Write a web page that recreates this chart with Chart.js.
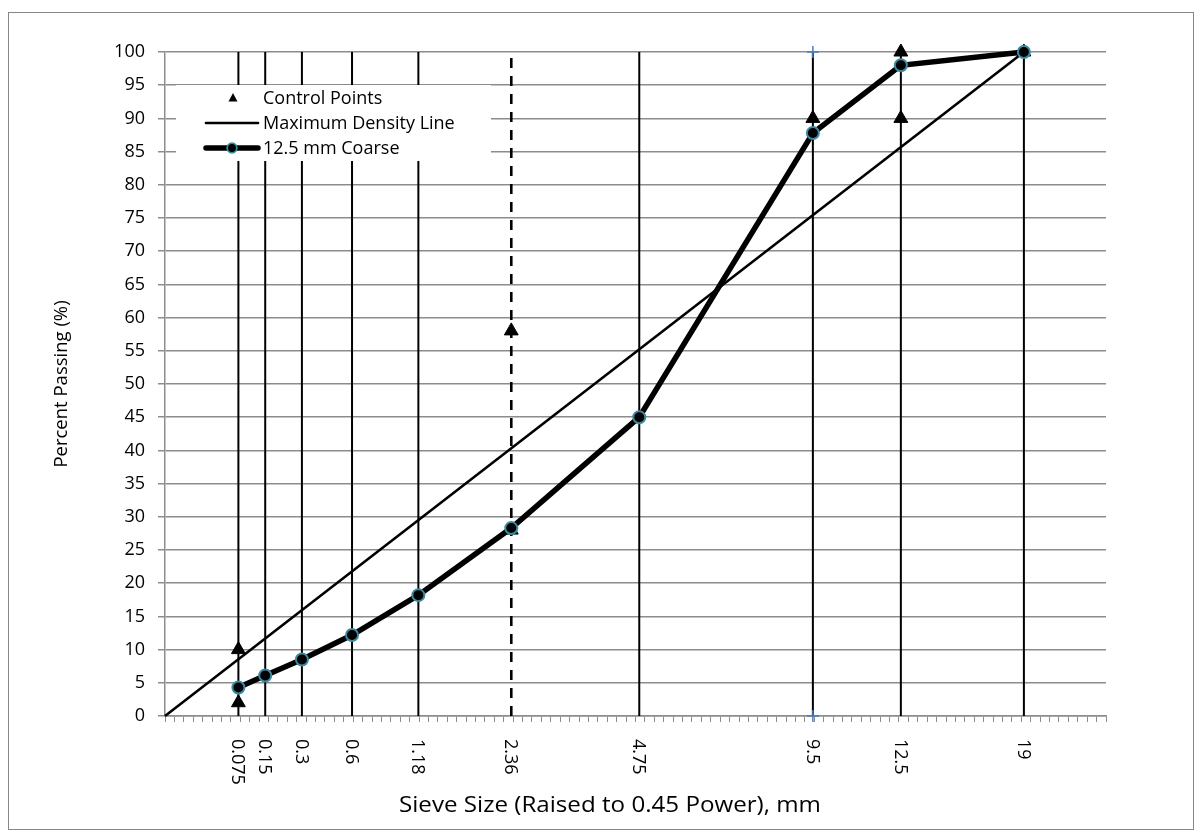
<!DOCTYPE html>
<html>
<head>
<meta charset="utf-8">
<title>Gradation Chart</title>
<script src="https://cdn.jsdelivr.net/npm/chart.js@4.4.1/dist/chart.umd.min.js"></script>
<style>
  html, body { margin: 0; padding: 0; background: #ffffff; }
  #wrap { width: 1202px; height: 840px; position: relative; }
  canvas { display: block; }
</style>
</head>
<body>
<div id="wrap"><canvas id="gradation" width="1202" height="840"></canvas></div>
<script>
// Sieve sizes (mm) as labelled under the axis
const sieveSizes = ['0.075', '0.15', '0.3', '0.6', '1.18', '2.36', '4.75', '9.5', '12.5', '19'];
// Where each sieve sits on the horizontal axis (size raised to the 0.45 power)
const sievePositions = [0.312, 0.426, 0.582, 0.795, 1.077, 1.472, 2.016, 2.754, 3.128, 3.651];
// Percent passing for the 12.5 mm coarse blend, one value per sieve
const coarsePassing = [4.3, 6.1, 8.5, 12.2, 18.2, 28.3, 45.0, 87.8, 98.0, 100];
// Superpave control points for a 12.5 mm nominal mix
const controlSieves = ['0.075', '0.075', '2.36', '2.36', '9.5', '12.5', '12.5', '19'];
const controlPassing = [2, 10, 28, 58, 90, 90, 100, 100];
// Maximum density line: from the origin to 100 % at the largest sieve
const densityLineSieves = ['0', '19'];
const densityLinePassing = [0, 100];
// Percent-passing axis labels
const yTickValues = [0, 5, 10, 15, 20, 25, 30, 35, 40, 45, 50, 55, 60, 65, 70, 75, 80, 85, 90, 95, 100];

const FONT = '"Open Sans", "Noto Sans", sans-serif';
const posOf = s => (s === '0' ? 0 : sievePositions[sieveSizes.indexOf(s)]);

// Minor tick marks along the horizontal axis every 0.04 units
const xMinorTicks = [];
for (let i = 0; i <= 100; i++) xMinorTicks.push(+(i * 0.04).toFixed(2));

const coarseData = sieveSizes.map((s, i) => ({ x: posOf(s), y: coarsePassing[i] }));
const controlData = controlSieves.map((s, i) => ({ x: posOf(s), y: controlPassing[i] }));
const densityData = densityLineSieves.map((s, i) => ({ x: posOf(s), y: densityLinePassing[i] }));

// One vertical guide per sieve, full height of the chart
const sieveLineSets = sieveSizes.map((s) => {
  const dashed = s === '2.36';
  const marked = s === '9.5';
  return {
    label: 'sieve ' + s,
    inLegend: false,
    data: [{ x: posOf(s), y: 0 }, { x: posOf(s), y: 100 }],
    showLine: true,
    borderColor: '#000000',
    borderWidth: dashed ? 2.6 : 2,
    borderDash: dashed ? [10, 8] : [],
    pointStyle: 'cross',
    pointRadius: marked ? 6 : 0,
    pointBorderColor: '#4a7ebb',
    pointBorderWidth: 1.5,
    pointHoverRadius: 0,
    clip: false
  };
});

const datasets = [
  {
    label: '12.5 mm Coarse',
    inLegend: true,
    data: coarseData,
    showLine: true,
    borderColor: '#000000',
    borderWidth: 5.5,
    pointStyle: 'circle',
    pointRadius: 6,
    pointBackgroundColor: '#000000',
    pointBorderColor: '#3a8aa3',
    pointBorderWidth: 2,
    clip: false
  },
  {
    label: 'Control Points',
    inLegend: true,
    data: controlData,
    showLine: false,
    pointStyle: 'triangle',
    pointRadius: 8,
    pointBackgroundColor: '#000000',
    pointBorderColor: '#000000',
    pointBorderWidth: 1,
    clip: false
  },
  {
    label: 'Maximum Density Line',
    inLegend: true,
    data: densityData,
    showLine: true,
    borderColor: '#000000',
    borderWidth: 2.6,
    pointRadius: 0,
    clip: false
  },
  ...sieveLineSets
];

const GRID = '#8c8c8c';

const decor = {
  id: 'decor',
  beforeDraw(chart) {
    const ctx = chart.ctx;
    ctx.save();
    ctx.fillStyle = '#ffffff';
    ctx.fillRect(0, 0, chart.width, chart.height);
    ctx.strokeStyle = '#878787';
    ctx.lineWidth = 1;
    ctx.strokeRect(8.5, 12.5, 1185, 817);
    ctx.restore();
  },
  afterDatasetsDraw(chart) {
    // Legend panel inside the plot, over the grid
    const ctx = chart.ctx;
    ctx.save();
    ctx.fillStyle = '#ffffff';
    ctx.fillRect(176, 85, 315, 76);
    ctx.fillStyle = '#000000';
    ctx.font = '18px ' + FONT;
    ctx.textBaseline = 'middle';
    ctx.textAlign = 'left';
    const rows = [98, 123, 148];
    const items = chart.data.datasets.filter(d => d.inLegend);
    const order = ['Control Points', 'Maximum Density Line', '12.5 mm Coarse'];
    order.forEach((name, r) => {
      const ds = items.find(d => d.label === name);
      const y = rows[r];
      if (ds.pointStyle === 'triangle' && !ds.showLine) {
        ctx.beginPath();
        ctx.moveTo(233, y - 5);
        ctx.lineTo(237.5, y + 3.5);
        ctx.lineTo(228.5, y + 3.5);
        ctx.closePath();
        ctx.fill();
      } else {
        ctx.strokeStyle = ds.borderColor;
        ctx.lineWidth = ds.borderWidth;
        ctx.lineCap = 'round';
        ctx.beginPath();
        ctx.moveTo(206, y);
        ctx.lineTo(258, y);
        ctx.stroke();
        if (ds.pointRadius > 0) {
          ctx.beginPath();
          ctx.arc(232, y, 4.8, 0, Math.PI * 2);
          ctx.fillStyle = ds.pointBackgroundColor;
          ctx.fill();
          ctx.lineWidth = 1.8;
          ctx.strokeStyle = ds.pointBorderColor;
          ctx.stroke();
          ctx.fillStyle = '#000000';
        }
      }
      ctx.fillText(ds.label, 263, y + 1);
    });
    ctx.restore();
  },
  afterDraw(chart) {
    const ctx = chart.ctx;
    const xs = chart.scales.x;
    ctx.save();
    ctx.fillStyle = '#000000';
    // Sieve labels, turned to read downward
    ctx.font = '18px ' + FONT;
    ctx.textAlign = 'left';
    ctx.textBaseline = 'middle';
    sieveSizes.forEach((s, i) => {
      const px = xs.getPixelForValue(sievePositions[i]);
      ctx.save();
      ctx.translate(px, 739);
      ctx.rotate(Math.PI / 2);
      ctx.fillText(s, 0, 1);
      ctx.restore();
    });
    // Axis titles (the horizontal one set slightly wide)
    ctx.textAlign = 'center';
    ctx.font = '21px ' + FONT;
    ctx.save();
    ctx.translate(610, 806);
    ctx.scale(1.15, 1);
    ctx.fillText('Sieve Size (Raised to 0.45 Power), mm', 0, 0);
    ctx.restore();
    ctx.font = '18.5px ' + FONT;
    ctx.save();
    ctx.translate(62, 384);
    ctx.rotate(-Math.PI / 2);
    ctx.fillText('Percent Passing (%)', 0, 0);
    ctx.restore();
    ctx.restore();
  }
};

new Chart(document.getElementById('gradation'), {
  type: 'scatter',
  data: { datasets },
  options: {
    responsive: false,
    devicePixelRatio: 1,
    animation: false,
    events: [],
    layout: { autoPadding: false, padding: { left: 0, top: 52, right: 96, bottom: 0 } },
    plugins: { legend: { display: false }, tooltip: { enabled: false } },
    elements: { line: { tension: 0 } },
    scales: {
      x: {
        type: 'linear',
        min: 0,
        max: 4,
        afterBuildTicks: (scale) => { scale.ticks = xMinorTicks.map(v => ({ value: v })); },
        afterFit: (scale) => { scale.height = 124; },
        ticks: { display: false },
        grid: { drawOnChartArea: false, drawTicks: true, tickLength: 6, color: GRID, lineWidth: 1 },
        border: { display: true, color: GRID, width: 1.5 }
      },
      y: {
        type: 'linear',
        min: 0,
        max: 100,
        afterBuildTicks: (scale) => { scale.ticks = yTickValues.map(v => ({ value: v })); },
        afterFit: (scale) => { scale.width = 165; },
        ticks: { color: '#000000', font: { family: FONT, size: 18 }, padding: 13 },
        grid: { color: GRID, lineWidth: 1.5, tickLength: 7 },
        border: { display: true, color: GRID, width: 1.5 }
      }
    }
  },
  plugins: [decor]
});
</script>
</body>
</html>
